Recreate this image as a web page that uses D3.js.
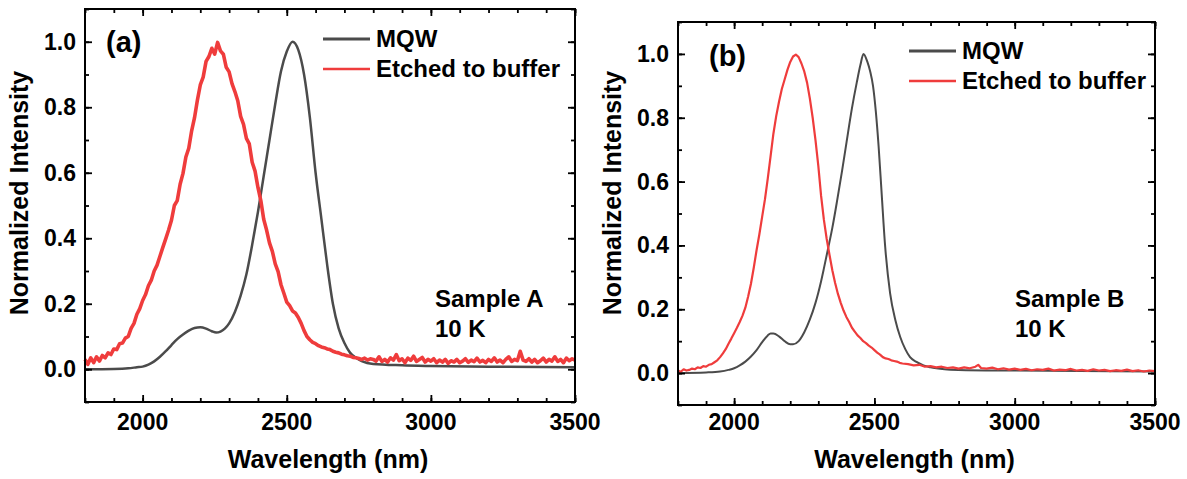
<!DOCTYPE html>
<html>
<head>
<meta charset="utf-8">
<script src="https://cdn.jsdelivr.net/npm/d3@7"></script>
<style>
  body { margin: 0; background: #fff; }
  svg text { font-family: Arial, "Liberation Sans", sans-serif; font-weight: bold; fill: #000; }
</style>
</head>
<body>
<div id="chart"></div>
<script>
// tick values
var xTicks = [2000, 2500, 3000, 3500];
var yTicks = [0.0, 0.2, 0.4, 0.6, 0.8, 1.0];
var seriesNames = ["MQW", "Etched to buffer"];

// sample A, [wavelength nm, normalized intensity]
var mqwA = [
  [1800, 0], [1900, 0.001], [1950, 0.003], [1980, 0.006], [2000, 0.008], [2020, 0.014],
  [2040, 0.024], [2060, 0.038], [2080, 0.055], [2100, 0.074], [2120, 0.092], [2140, 0.106],
  [2160, 0.118], [2180, 0.126], [2200, 0.128], [2220, 0.124], [2240, 0.116], [2255, 0.112],
  [2270, 0.115], [2285, 0.124], [2300, 0.140], [2320, 0.175], [2340, 0.225], [2360, 0.29],
  [2380, 0.38], [2400, 0.48], [2420, 0.59], [2440, 0.70], [2460, 0.81], [2480, 0.91],
  [2500, 0.97], [2520, 1.0], [2540, 0.975], [2560, 0.90], [2580, 0.77], [2600, 0.60],
  [2620, 0.46], [2640, 0.32], [2660, 0.20], [2680, 0.125], [2700, 0.08], [2720, 0.05],
  [2740, 0.035], [2760, 0.025], [2800, 0.016], [2900, 0.012], [3000, 0.010], [3200, 0.008],
  [3500, 0.006]
];
var bufferA = [
  [1800, 0.030], [1810, 0.015], [1820, 0.035], [1830, 0.020], [1840, 0.038], [1850, 0.025],
  [1860, 0.042], [1870, 0.035], [1880, 0.050], [1890, 0.045], [1900, 0.062], [1910, 0.060],
  [1920, 0.078], [1930, 0.080], [1940, 0.095], [1950, 0.100], [1960, 0.125], [1970, 0.140],
  [1980, 0.168], [1990, 0.185], [2000, 0.210], [2010, 0.228], [2020, 0.255], [2030, 0.272],
  [2040, 0.300], [2050, 0.318], [2060, 0.345], [2070, 0.372], [2080, 0.398], [2090, 0.425],
  [2100, 0.455], [2110, 0.500], [2120, 0.515], [2130, 0.565], [2140, 0.598], [2150, 0.648],
  [2160, 0.675], [2170, 0.728], [2180, 0.768], [2190, 0.822], [2200, 0.868], [2210, 0.892],
  [2220, 0.940], [2230, 0.955], [2240, 0.980], [2250, 0.962], [2260, 0.998], [2270, 0.972],
  [2280, 0.962], [2290, 0.922], [2300, 0.908], [2310, 0.872], [2320, 0.848], [2330, 0.820],
  [2340, 0.772], [2350, 0.748], [2360, 0.705], [2370, 0.688], [2380, 0.632], [2390, 0.605],
  [2400, 0.555], [2410, 0.515], [2420, 0.458], [2430, 0.425], [2440, 0.386], [2450, 0.360],
  [2460, 0.322], [2470, 0.298], [2480, 0.258], [2490, 0.232], [2500, 0.205], [2510, 0.194],
  [2520, 0.178], [2530, 0.172], [2540, 0.158], [2550, 0.140], [2560, 0.118], [2570, 0.100],
  [2580, 0.090], [2590, 0.082], [2600, 0.078], [2610, 0.072], [2620, 0.068], [2630, 0.066],
  [2640, 0.062], [2650, 0.060], [2660, 0.055], [2670, 0.052], [2680, 0.050], [2690, 0.046],
  [2700, 0.044], [2710, 0.041], [2720, 0.040], [2730, 0.036], [2740, 0.035], [2750, 0.033],
  [2760, 0.030], [2770, 0.034], [2780, 0.028], [2790, 0.032], [2800, 0.030], [2810, 0.025],
  [2820, 0.038], [2830, 0.024], [2840, 0.030], [2850, 0.022], [2860, 0.035], [2870, 0.028],
  [2880, 0.045], [2890, 0.026], [2900, 0.032], [2910, 0.020], [2920, 0.034], [2930, 0.027],
  [2940, 0.040], [2950, 0.024], [2960, 0.030], [2970, 0.036], [2980, 0.022], [2990, 0.030],
  [3000, 0.025], [3010, 0.032], [3020, 0.020], [3030, 0.028], [3040, 0.022], [3050, 0.030],
  [3060, 0.018], [3070, 0.026], [3080, 0.022], [3090, 0.030], [3100, 0.020], [3110, 0.025],
  [3120, 0.032], [3130, 0.021], [3140, 0.028], [3150, 0.023], [3160, 0.034], [3170, 0.022],
  [3180, 0.027], [3190, 0.020], [3200, 0.030], [3210, 0.024], [3220, 0.035], [3230, 0.022],
  [3240, 0.028], [3250, 0.020], [3260, 0.030], [3270, 0.038], [3280, 0.024], [3290, 0.030],
  [3300, 0.026], [3310, 0.055], [3320, 0.028], [3330, 0.024], [3340, 0.032], [3350, 0.022],
  [3360, 0.030], [3370, 0.020], [3380, 0.026], [3390, 0.034], [3400, 0.022], [3410, 0.030],
  [3420, 0.025], [3430, 0.038], [3440, 0.024], [3450, 0.030], [3460, 0.020], [3470, 0.034],
  [3480, 0.026], [3490, 0.032], [3500, 0.028]
];

// sample B
var mqwB = [
  [1800, 0], [1900, 0.002], [1950, 0.005], [1980, 0.010], [2000, 0.015], [2020, 0.024],
  [2040, 0.036], [2060, 0.052], [2080, 0.072], [2100, 0.097], [2120, 0.118], [2130, 0.124],
  [2140, 0.124], [2160, 0.115], [2180, 0.100], [2200, 0.090], [2210, 0.090], [2230, 0.100],
  [2250, 0.128], [2270, 0.168], [2290, 0.220], [2300, 0.252], [2310, 0.288], [2320, 0.328],
  [2336, 0.395], [2350, 0.455], [2368, 0.545], [2385, 0.635], [2401, 0.725], [2420, 0.830],
  [2437, 0.910], [2450, 0.965], [2461, 1.0], [2475, 0.975], [2485, 0.945], [2495, 0.900],
  [2505, 0.820], [2515, 0.710], [2526, 0.560], [2538, 0.400], [2556, 0.250], [2575, 0.165],
  [2592, 0.113], [2610, 0.075], [2627, 0.05], [2650, 0.035], [2675, 0.024], [2700, 0.018],
  [2750, 0.012], [2800, 0.010], [3000, 0.008], [3500, 0.005]
];
var bufferB = [
  [1800, 0.008], [1810, 0.004], [1820, 0.012], [1830, 0.008], [1840, 0.010], [1850, 0.014],
  [1860, 0.012], [1870, 0.018], [1880, 0.016], [1890, 0.022], [1900, 0.020], [1910, 0.026],
  [1920, 0.028], [1930, 0.034], [1940, 0.040], [1950, 0.050], [1960, 0.062], [1970, 0.075],
  [1980, 0.092], [1990, 0.108], [2000, 0.125], [2010, 0.142], [2020, 0.160], [2030, 0.180],
  [2040, 0.205], [2050, 0.240], [2060, 0.280], [2070, 0.330], [2080, 0.385], [2090, 0.435],
  [2100, 0.490], [2110, 0.545], [2120, 0.610], [2130, 0.680], [2140, 0.750], [2150, 0.805],
  [2160, 0.850], [2170, 0.890], [2180, 0.920], [2190, 0.950], [2200, 0.975], [2210, 0.992],
  [2220, 0.998], [2230, 0.990], [2240, 0.970], [2250, 0.945], [2260, 0.910], [2270, 0.860],
  [2280, 0.800], [2290, 0.730], [2300, 0.650], [2310, 0.555], [2320, 0.480], [2330, 0.420],
  [2340, 0.370], [2350, 0.322], [2360, 0.282], [2370, 0.248], [2380, 0.220], [2390, 0.196],
  [2400, 0.176], [2410, 0.160], [2420, 0.142], [2430, 0.130], [2440, 0.118], [2450, 0.110],
  [2460, 0.100], [2470, 0.094], [2480, 0.086], [2490, 0.080], [2500, 0.072], [2510, 0.064],
  [2520, 0.058], [2530, 0.050], [2540, 0.046], [2550, 0.044], [2560, 0.040], [2570, 0.038],
  [2580, 0.036], [2590, 0.032], [2600, 0.030], [2620, 0.028], [2640, 0.024], [2660, 0.026],
  [2680, 0.020], [2700, 0.022], [2720, 0.018], [2740, 0.020], [2760, 0.016], [2780, 0.018],
  [2800, 0.014], [2820, 0.018], [2840, 0.015], [2860, 0.020], [2870, 0.026], [2880, 0.016],
  [2900, 0.014], [2920, 0.017], [2940, 0.012], [2960, 0.015], [2980, 0.011], [3000, 0.014],
  [3020, 0.010], [3040, 0.013], [3060, 0.009], [3080, 0.012], [3100, 0.010], [3120, 0.014],
  [3140, 0.008], [3160, 0.011], [3180, 0.009], [3200, 0.013], [3220, 0.008], [3240, 0.010],
  [3260, 0.007], [3280, 0.012], [3300, 0.008], [3320, 0.010], [3340, 0.006], [3360, 0.009],
  [3380, 0.007], [3400, 0.011], [3420, 0.006], [3440, 0.009], [3460, 0.005], [3480, 0.008],
  [3500, 0.006]
];

var grey = "#4b4b4b", red = "#ef3c3c";

var svg = d3.select("#chart").append("svg")
    .attr("width", 1187)
    .attr("height", 479);

drawPanel({
    left: 85, right: 575, top: 9, bottom: 402,
    mqw: mqwA, buffer: bufferA, redWidth: 3.6, greyWidth: 2.5,
    label: "(a)", labelX: 106, labelY: 52,
    legX: 323, legY: 39,
    sample: "Sample A", sampleX: 435
});
drawPanel({
    left: 678, right: 1155, top: 22, bottom: 405,
    mqw: mqwB, buffer: bufferB, redWidth: 2.2, greyWidth: 2,
    label: "(b)", labelX: 709, labelY: 66,
    legX: 909, legY: 51,
    sample: "Sample B", sampleX: 1015
});

function drawPanel(p) {
    var x = d3.scaleLinear().domain([1800, 3500]).range([p.left, p.right]);
    var y = d3.scaleLinear().domain([-0.1, 1.1]).range([p.bottom, p.top]);
    var g = svg.append("g");

    var line = d3.line()
        .x(function(d) { return x(d[0]); })
        .y(function(d) { return y(d[1]); });

    // grey first, red on top
    g.append("path")
        .datum(p.mqw)
        .attr("fill", "none")
        .attr("stroke", grey)
        .attr("stroke-width", p.greyWidth)
        .attr("d", line.curve(d3.curveMonotoneX));
    g.append("path")
        .datum(p.buffer)
        .attr("fill", "none")
        .attr("stroke", red)
        .attr("stroke-width", p.redWidth)
        .attr("stroke-linejoin", "round")
        .attr("d", line.curve(d3.curveLinear));

    // inward ticks on all four sides, minor every 100 nm / 0.1
    var minorX = d3.range(1800, 3501, 100);
    var minorY = d3.range(-1, 12).map(function(i) { return i / 10; });

    g.append("g")
        .attr("transform", "translate(0," + p.bottom + ")")
        .call(d3.axisTop(x).tickValues(minorX).tickSize(4).tickFormat(""));
    g.append("g")
        .attr("transform", "translate(0," + p.bottom + ")")
        .call(d3.axisTop(x).tickValues(xTicks).tickSize(7).tickFormat(""));
    g.append("g")
        .attr("transform", "translate(0," + p.top + ")")
        .call(d3.axisBottom(x).tickValues(minorX).tickSize(4).tickFormat(""));
    g.append("g")
        .attr("transform", "translate(0," + p.top + ")")
        .call(d3.axisBottom(x).tickValues(xTicks).tickSize(7).tickFormat(""));
    g.append("g")
        .attr("transform", "translate(" + p.left + ",0)")
        .call(d3.axisRight(y).tickValues(minorY).tickSize(4).tickFormat(""));
    g.append("g")
        .attr("transform", "translate(" + p.left + ",0)")
        .call(d3.axisRight(y).tickValues(yTicks).tickSize(7).tickFormat(""));
    g.append("g")
        .attr("transform", "translate(" + p.right + ",0)")
        .call(d3.axisLeft(y).tickValues(minorY).tickSize(4).tickFormat(""));
    g.append("g")
        .attr("transform", "translate(" + p.right + ",0)")
        .call(d3.axisLeft(y).tickValues(yTicks).tickSize(7).tickFormat(""));

    g.selectAll(".domain").remove();
    g.selectAll(".tick line").attr("stroke", "#000").attr("stroke-width", 1.8);

    g.append("rect")
        .attr("x", p.left).attr("y", p.top)
        .attr("width", p.right - p.left).attr("height", p.bottom - p.top)
        .attr("fill", "none").attr("stroke", "#000").attr("stroke-width", 2);

    // tick labels
    g.selectAll(".xl").data(xTicks).enter().append("text")
        .attr("x", function(d) { return x(d); })
        .attr("y", 430)
        .attr("text-anchor", "middle")
        .style("font-size", "23px")
        .text(function(d) { return d; });
    g.selectAll(".yl").data(yTicks).enter().append("text")
        .attr("x", p.left - 9)
        .attr("y", function(d) { return y(d) + 8; })
        .attr("text-anchor", "end")
        .style("font-size", "23px")
        .text(function(d) { return d3.format(".1f")(d); });

    // axis titles
    g.append("text")
        .attr("x", (p.left + p.right) / 2 - 2)
        .attr("y", 468)
        .attr("text-anchor", "middle")
        .style("font-size", "25px")
        .text("Wavelength (nm)");
    g.append("text")
        .attr("transform", "translate(" + (p.left - 57) + "," + 193 + ") rotate(-90)")
        .attr("text-anchor", "middle")
        .style("font-size", "25px")
        .text("Normalized Intensity");

    // panel label
    g.append("text")
        .attr("x", p.labelX).attr("y", p.labelY)
        .style("font-size", "29px")
        .text(p.label);

    // legend
    var colors = [grey, red];
    seriesNames.forEach(function(name, i) {
        var ly = p.legY + i * 30;
        g.append("line")
            .attr("x1", p.legX).attr("x2", p.legX + 47)
            .attr("y1", ly).attr("y2", ly)
            .attr("stroke", colors[i])
            .attr("stroke-width", i == 0 ? 3 : 2.5);
        g.append("text")
            .attr("x", p.legX + 53).attr("y", ly + 7.5)
            .style("font-size", "24px")
            .text(name);
    });

    // sample note
    g.append("text").attr("x", p.sampleX).attr("y", 307)
        .style("font-size", "24px").text(p.sample);
    g.append("text").attr("x", p.sampleX).attr("y", 337)
        .style("font-size", "24px").text("10 K");
}
</script>
</body>
</html>
